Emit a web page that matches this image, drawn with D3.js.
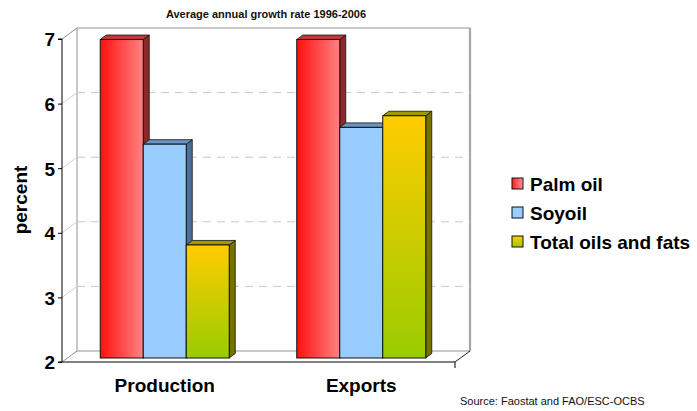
<!DOCTYPE html>
<html><head><meta charset="utf-8">
<script src="https://cdn.jsdelivr.net/npm/d3@7/dist/d3.min.js"></script>
<style>body{margin:0;background:#fff}svg{display:block;font-family:"Liberation Sans",Arial,sans-serif}</style>
</head><body>
<svg id="c" width="697" height="411"></svg>
<script>
const categories = ["Production", "Exports"];
const series = ["Palm oil", "Soyoil", "Total oils and fats"];
const palmOil = [6.93, 6.93];
const soyoil = [5.31, 5.57];
const totalOils = [3.75, 5.75];
const yTicks = [2, 3, 4, 5, 6, 7];
const title = "Average annual growth rate 1996-2006";
const source = "Source: Faostat and FAO/ESC-OCBS";
const yLabel = "percent";

(function () {
const values = [palmOil, soyoil, totalOils];
const svg = d3.select("#c");
const defs = svg.append("defs");

const pL = 62, pR = 455, pT = 39, pB = 362;
const DX = 15, DY = -11;       // wall depth
const BX = 4.5, BY = -4;       // bar placement depth
const SX = 6, SY = -4.5;       // bar thickness

const y = d3.scaleLinear().domain([2, 7]).range([pB, pT]);
const x0 = d3.scaleBand().domain(categories).range([pL, pR]).paddingInner(0).paddingOuter(0);
const groupW = 129;
const x1 = d3.scaleBand().domain(series).range([0, groupW]);

const gRed = defs.append("linearGradient").attr("id", "gRed").attr("x1", 0).attr("x2", 1).attr("y1", 0).attr("y2", 0);
gRed.append("stop").attr("offset", "0%").attr("stop-color", "#ff1010");
gRed.append("stop").attr("offset", "100%").attr("stop-color", "#ff8282");
const gYel = defs.append("linearGradient").attr("id", "gYel").attr("x1", 0).attr("x2", 0).attr("y1", 0).attr("y2", 1);
gYel.append("stop").attr("offset", "0%").attr("stop-color", "#ffcc00");
gYel.append("stop").attr("offset", "100%").attr("stop-color", "#99cc00");

const fronts = ["url(#gRed)", "#99ccff", "url(#gYel)"];
const sides = ["#8c2a2a", "#4d6f94", "#7a7000"];
const tops = ["#c23838", "#6a94c4", "#a09a00"];
const legendFill = ["url(#gRedL)", "#99ccff", "url(#gYelL)"];

const wall = svg.append("g");
wall.append("rect").attr("x", pL + DX).attr("y", pT + DY).attr("width", pR - pL).attr("height", pB - pT)
  .attr("fill", "none").attr("stroke", "#a6a6a6").attr("stroke-width", 1.2);
wall.append("line").attr("x1", pR + DX).attr("x2", pR + DX).attr("y1", pT + DY).attr("y2", pB + DY)
  .attr("stroke", "#a6a6a6").attr("stroke-width", 2.2);
wall.selectAll(".grid").data(yTicks.filter(t => t > 2 && t < 7)).enter().append("line")
  .attr("x1", pL + DX).attr("x2", pR + DX)
  .attr("y1", d => y(d) + DY).attr("y2", d => y(d) + DY)
  .attr("stroke", "#c8c8c8").attr("stroke-dasharray", "8,6").attr("stroke-width", 1);
wall.selectAll(".diag").data(yTicks).enter().append("line")
  .attr("x1", pL).attr("x2", pL + DX)
  .attr("y1", d => y(d)).attr("y2", d => y(d) + DY)
  .attr("stroke", d => (d === 2 || d === 7) ? "#909090" : "#d0d0d0").attr("stroke-width", 1);
wall.append("line").attr("x1", pR).attr("x2", pR + DX).attr("y1", pB).attr("y2", pB + DY)
  .attr("stroke", "#202020").attr("stroke-width", 1);
wall.append("line").attr("x1", pL).attr("x2", pR).attr("y1", pB).attr("y2", pB)
  .attr("stroke", "#000").attr("stroke-width", 1.2);
wall.append("line").attr("x1", pR).attr("x2", pR).attr("y1", pB).attr("y2", pB + 6)
  .attr("stroke", "#000").attr("stroke-width", 1);

const yAxis = d3.axisLeft(y).tickValues(yTicks).tickSize(4).tickFormat(d3.format("d"));
const ya = svg.append("g").attr("transform", `translate(${pL},0)`).call(yAxis);
ya.select(".domain").attr("stroke", "#000").attr("d", `M-4,${pT}H0V${pB}H-4`);
ya.selectAll(".tick line").attr("stroke", "#000");
ya.selectAll(".tick text").attr("font-size", 19).attr("font-weight", "bold").attr("fill", "#000")
  .attr("font-family", "Liberation Sans, Arial, sans-serif").attr("x", -7).attr("dy", "0.36em");

const barsG = svg.append("g");
categories.forEach((cat, ci) => {
  const gx = x0(cat) + x0.bandwidth() / 2 - groupW / 2 + BX;
  series.forEach((s, si) => {
    const v = values[si][ci];
    const bx = gx + x1(s), bw = x1.bandwidth();
    const by = y(v) + BY, bb = y(2) + BY;
    barsG.append("path").attr("d", `M${bx + bw},${by}L${bx + bw + SX},${by + SY}L${bx + bw + SX},${bb + SY}L${bx + bw},${bb}Z`)
      .attr("fill", sides[si]).attr("stroke", "#111").attr("stroke-width", 0.8);
    barsG.append("path").attr("d", `M${bx},${by}L${bx + SX},${by + SY}L${bx + bw + SX},${by + SY}L${bx + bw},${by}Z`)
      .attr("fill", tops[si]).attr("stroke", "#111").attr("stroke-width", 0.8);
    barsG.append("rect").attr("x", bx).attr("y", by).attr("width", bw).attr("height", bb - by)
      .attr("fill", fronts[si]).attr("stroke", "#111").attr("stroke-width", 1);
  });
});

svg.selectAll(".cat").data(categories).enter().append("text")
  .attr("x", d => x0(d) + x0.bandwidth() / 2 + BX).attr("y", 392)
  .attr("text-anchor", "middle").attr("font-size", 19).attr("font-weight", "bold").text(d => d);

svg.append("text").attr("transform", "translate(27,200) rotate(-90)").attr("text-anchor", "middle")
  .attr("font-size", 19).attr("font-weight", "bold").text(yLabel);

svg.append("text").attr("x", 266).attr("y", 18).attr("text-anchor", "middle")
  .attr("font-size", 11).attr("font-weight", "bold").attr("fill", "#111").text(title);

svg.append("text").attr("x", 460).attr("y", 405).attr("font-size", 11).attr("fill", "#111").text(source);

const gRedL = defs.append("linearGradient").attr("id", "gRedL").attr("x1", 0).attr("x2", 1);
gRedL.append("stop").attr("offset", "0%").attr("stop-color", "#ff2020");
gRedL.append("stop").attr("offset", "100%").attr("stop-color", "#ff9090");
const gYelL = defs.append("linearGradient").attr("id", "gYelL").attr("x1", 0).attr("x2", 0).attr("y1", 0).attr("y2", 1);
gYelL.append("stop").attr("offset", "0%").attr("stop-color", "#ffcc00");
gYelL.append("stop").attr("offset", "100%").attr("stop-color", "#99cc00");
const leg = svg.append("g");
series.forEach((s, i) => {
  const ly = 184 + i * 29;
  leg.append("rect").attr("x", 512).attr("y", ly - 6).attr("width", 11).attr("height", 11)
    .attr("fill", legendFill[i]).attr("stroke", "#111").attr("stroke-width", 1);
  leg.append("text").attr("x", 530).attr("y", ly + 7).attr("font-size", 19).attr("font-weight", "bold").text(s);
});
})();
</script>
</body></html>
